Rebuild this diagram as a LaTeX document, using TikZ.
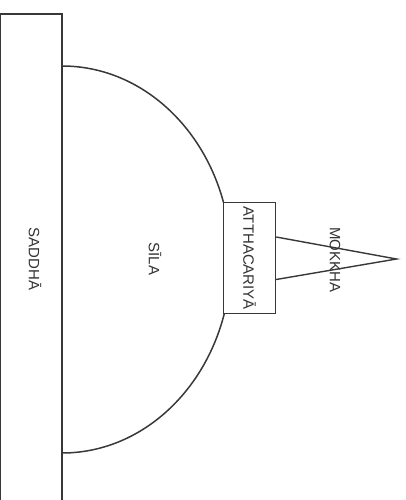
\documentclass[tikz,border=0pt]{standalone}
\usepackage{fontspec}
\setmainfont{Liberation Sans}
\begin{document}
\begin{tikzpicture}[x=1pt,y=-1pt,
  ink/.style={draw=black!78, line width=1.4pt},
  lbl/.style={font=\fontsize{15}{15}\selectfont, text=black!80, rotate=-90, inner sep=0pt}]
\useasboundingbox (0,0) rectangle (406,500);
% base column
\draw[ink, line width=1.3pt] (0.6,520) -- (0.6,14) -- (62,14) -- (62,520);
\node[lbl] (saddha) at (35,259) {SADDHĀ};
% half dome
\draw[ink, line width=1.5pt] (62,66) arc[start angle=-90, end angle=90, x radius=169, y radius=193.5];
\draw[ink, line width=2.6pt] (62,66) -- (62,453);
\node[lbl] (sila) at (155,259) {SĪLA};
% spire
\coordinate (tip) at (396.5,259);
\node[ink, fill=white, minimum width=52pt, minimum height=110.5pt, inner sep=0pt] (box) at (249.5,258) {};
\node[lbl] at (box.center) {ATTHACARIYĀ};
\draw[ink] ([yshift=-21.5pt]box.east) -- (tip) -- ([yshift=21pt]box.east);
\node[lbl] (mokkha) at (335,260) {MOKKHA};
\end{tikzpicture}
\end{document}
